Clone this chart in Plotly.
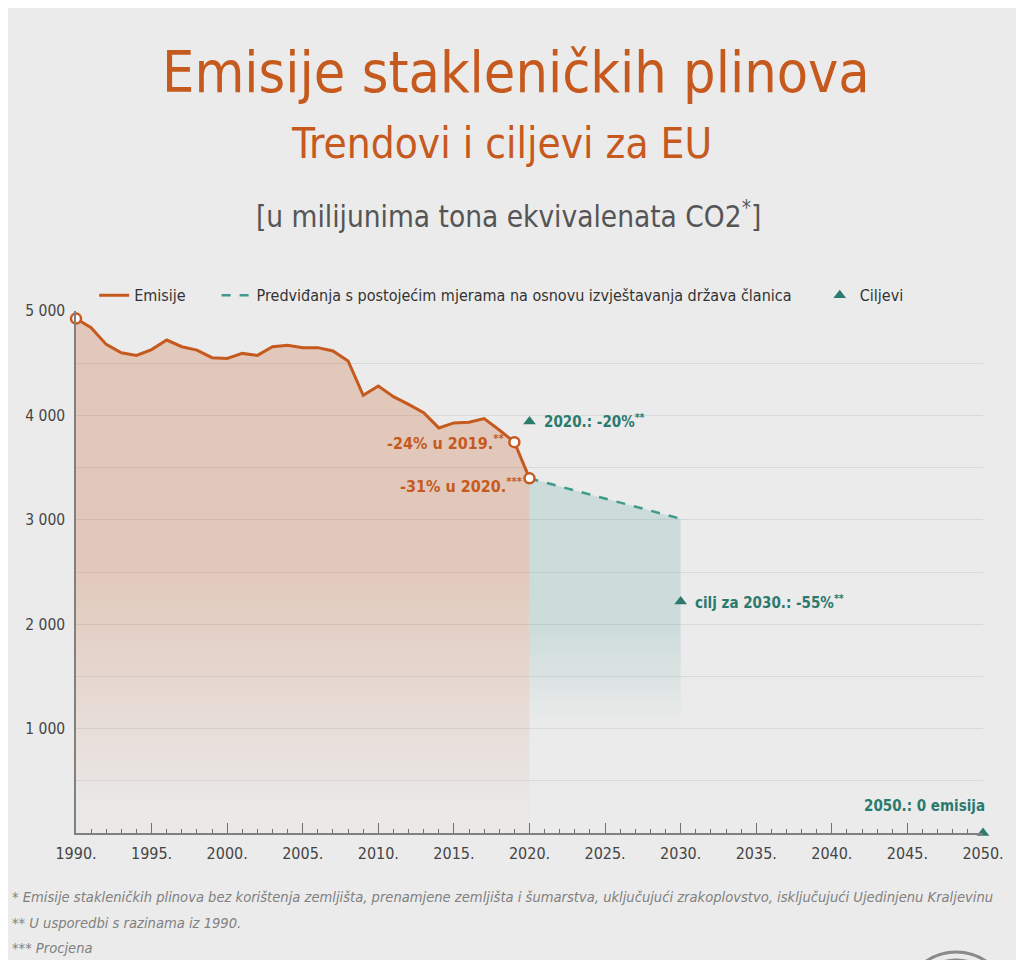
import plotly.graph_objects as go

# EU greenhouse gas emissions, million tonnes CO2 equivalent
years = list(range(1990, 2021))
emissions = [4927, 4840, 4680, 4600, 4575, 4630, 4722, 4658, 4626, 4553,
             4546, 4594, 4575, 4658, 4671, 4649, 4649, 4617, 4521, 4192,
             4281, 4179, 4105, 4025, 3880, 3928, 3935, 3969, 3860, 3744,
             3397]

proj_years = [2020, 2030]
projection = [3397, 3010]

target_years = [2020, 2030, 2050]
targets = [3942, 2217, 0]

highlight_years = [1990, 2019, 2020]
highlight_vals = [4927, 3744, 3397]

y_ticks = [500, 1000, 1500, 2000, 2500, 3000, 3500, 4000, 4500, 5000]
y_labels = ['', '1 000', '', '2 000', '', '3 000', '', '4 000', '', '5 000']
x_ticks = list(range(1990, 2051, 5))
x_labels = [str(v) + '.' for v in x_ticks]

ORANGE = '#c65a1e'
TEAL = '#2b7a6e'
TEAL_DASH = '#3f9a8b'
GREY = '#454545'
FONT = 'DejaVu Sans Condensed, DejaVu Sans, sans-serif'

fig = go.Figure()

# filled areas, fading out toward the bottom
fig.add_trace(go.Scatter(x=years, y=emissions, mode='none', fill='tozeroy',
                         fillgradient=dict(type='vertical', start=200, stop=2600,
                                           colorscale=[[0, 'rgba(200,110,60,0.02)'],
                                                       [1, 'rgba(200,110,60,0.28)']]),
                         showlegend=False, hoverinfo='skip'))
fig.add_trace(go.Scatter(x=proj_years, y=projection, mode='none', fill='tozeroy',
                         fillgradient=dict(type='vertical', start=1000, stop=2000,
                                           colorscale=[[0, 'rgba(60,150,140,0)'],
                                                       [1, 'rgba(60,150,140,0.18)']]),
                         showlegend=False, hoverinfo='skip'))

fig.add_trace(go.Scatter(x=years, y=emissions, mode='lines', name='Emisije',
                         line=dict(color=ORANGE, width=3), legend='legend'))
fig.add_trace(go.Scatter(x=proj_years, y=projection, mode='lines',
                         name='Predviđanja s postojećim mjerama na osnovu izvještavanja država članica',
                         line=dict(color=TEAL_DASH, width=2.5, dash='dash'), legend='legend2'))
fig.add_trace(go.Scatter(x=target_years, y=targets, mode='markers', name='Ciljevi',
                         marker=dict(symbol='triangle-up', size=11, color=TEAL),
                         cliponaxis=False, legend='legend3'))
fig.add_trace(go.Scatter(x=highlight_years, y=highlight_vals, mode='markers',
                         marker=dict(symbol='circle', size=10, color='white',
                                     line=dict(color=ORANGE, width=2.5)),
                         showlegend=False, cliponaxis=False))

bold = dict(family=FONT, size=15, color=TEAL)
fig.add_annotation(x=2020, y=3942, text='<b>2020.: -20%<sup>**</sup></b>',
                   xanchor='left', yanchor='middle', xshift=12, showarrow=False, font=bold)
fig.add_annotation(x=2030, y=2217, text='<b>cilj za 2030.: -55%<sup>**</sup></b>',
                   xanchor='left', yanchor='middle', xshift=12, showarrow=False, font=bold)
fig.add_annotation(x=2050, y=0, text='<b>2050.: 0 emisija</b>',
                   xanchor='right', yanchor='middle', yshift=27, xshift=4,
                   showarrow=False, font=bold)
obold = dict(family=FONT, size=16, color=ORANGE)
fig.add_annotation(x=2019, y=3744, text='<b>-24% u 2019.<sup>**</sup></b>',
                   xanchor='right', yanchor='middle', xshift=-8, showarrow=False, font=obold)
fig.add_annotation(x=2020, y=3397, text='<b>-31% u 2020.<sup>***</sup></b>',
                   xanchor='right', yanchor='middle', xshift=-5, yshift=-7,
                   showarrow=False, font=obold)

# titles
fig.add_annotation(xref='paper', yref='paper', x=0.485, y=1.457, yanchor='middle',
                   text='Emisije stakleničkih plinova', showarrow=False,
                   font=dict(family=FONT, size=57, color=ORANGE))
fig.add_annotation(xref='paper', yref='paper', x=0.469, y=1.32, yanchor='middle',
                   text='Trendovi i ciljevi za EU', showarrow=False,
                   font=dict(family=FONT, size=42, color=ORANGE))
fig.add_annotation(xref='paper', yref='paper', x=0.477, y=1.184, yanchor='middle',
                   text='[u milijunima tona ekvivalenata CO2<sup>*</sup>]', showarrow=False,
                   font=dict(family=FONT, size=29.5, color='#555555'))

# footnotes
notes = ['* Emisije stakleničkih plinova bez korištenja zemljišta, prenamjene zemljišta i šumarstva, '
         'uključujući zrakoplovstvo, isključujući Ujedinjenu Kraljevinu',
         '** U usporedbi s razinama iz 1990.',
         '*** Procjena']
for i, t in enumerate(notes):
    fig.add_annotation(xref='paper', yref='paper', x=-0.073, y=-0.1226 - i * 0.0479,
                       text='<i>' + t + '</i>', showarrow=False,
                       xanchor='left', yanchor='middle',
                       font=dict(family=FONT, size=14.6, color='#808080'))

# hemicycle logo in the bottom right corner
for k, r in enumerate([53, 45, 37, 29]):
    fig.add_shape(type='circle', xref='paper', yref='paper',
                  x0=(958 - r - 76) / 909, x1=(958 + r - 76) / 909,
                  y0=(833 - 1005 - r) / 522, y1=(833 - 1005 + r) / 522,
                  line=dict(color='#8a8a8a', width=3), layer='above')

leg = dict(orientation='h', y=1.03, yanchor='middle', xanchor='left',
           bgcolor='rgba(0,0,0,0)', font=dict(size=16, color='#333333'))

fig.update_layout(
    width=1008, height=952,
    margin=dict(l=68, r=31, t=303, b=127),
    paper_bgcolor='#ebebeb', plot_bgcolor='#ebebeb',
    font=dict(family=FONT, size=16, color=GREY),
    legend=dict(leg, x=0.02),
    legend2=dict(leg, x=0.155),
    legend3=dict(leg, x=0.82),
    xaxis=dict(range=[1990, 2050], tickvals=x_ticks, ticktext=x_labels,
               ticks='inside', ticklen=10, tickcolor='#707070', showgrid=False,
               showline=True, linecolor='#808080', linewidth=1.5, zeroline=False,
               minor=dict(dtick=1, ticks='inside', ticklen=4, tickcolor='#707070'),
               ticklabelstandoff=5,
               tickfont=dict(size=16, color=GREY)),
    yaxis=dict(range=[0, 5000], tickvals=y_ticks, ticktext=y_labels,
               showgrid=True, gridcolor='#d8d8d8', gridwidth=1,
               showline=True, linecolor='#808080', linewidth=1.5, zeroline=False,
               ticks='', ticklabelstandoff=6, tickfont=dict(size=15.5, color=GREY)),
)

fig.write_html('out.html')
